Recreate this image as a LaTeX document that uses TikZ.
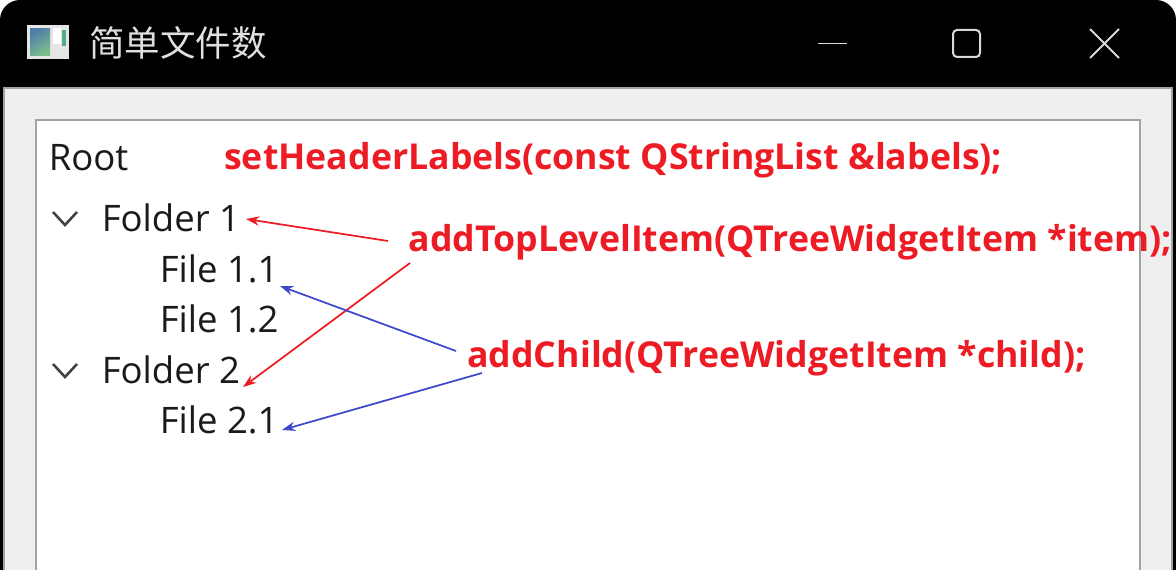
\documentclass[tikz,border=0pt]{standalone}
\usepackage{fontspec}
\setmainfont{Open Sans}
\newfontfamily\cjk{Noto Sans CJK SC}
\definecolor{redtxt}{HTML}{ED1C24}
\definecolor{bluearr}{HTML}{3F48CC}
\definecolor{treetxt}{HTML}{1A1A1A}
\definecolor{edgegray}{HTML}{A0A4A8}
\definecolor{panel}{HTML}{EFEFEF}
\definecolor{iconblue}{HTML}{4F7FA8}
\definecolor{icongreen}{HTML}{7DBE8C}
\usetikzlibrary{arrows.meta}
\tikzset{
  tree/.style={font=\fontsize{27.4}{27}\selectfont,text=treetxt,anchor=base west,inner sep=0pt},
  api/.style={font=\fontsize{26.75}{27}\selectfont\bfseries,text=redtxt,anchor=base west,inner sep=0pt},
  redarrow/.style={draw=redtxt,line width=1.3pt,-{Stealth[length=10pt,width=7pt]}},
  bluearrow/.style={draw=bluearr,line width=1.3pt,-{Stealth[length=10pt,width=7pt]}},
  chevron/.style={draw=black!75,line width=1.9pt},
  caption/.style={draw=white!85!black,line width=1.5pt},
}
\begin{document}
\begin{tikzpicture}[x=0.75pt,y=-0.75pt]
\useasboundingbox (0,0) rectangle (1176,570);
\fill[white] (0,0) rectangle (1176,570);
% title bar
\fill[black,rounded corners=15pt] (0,600) -- (0,0) -- (1176,0) -- (1176,600) -- cycle;
% body
\fill[panel] (4,88) rectangle (1172,570);
\draw[edgegray,line width=0.8pt] (4,570) -- (4,88) -- (1172,88) -- (1172,570);
\fill[white] (36,120) rectangle (1140,570);
\draw[edgegray,line width=1pt] (36,570) -- (36,120) -- (1140,120) -- (1140,570);
% window icon
\fill[white!90!black] (27,25) rectangle (69,59);
\shade[left color=iconblue,right color=icongreen,shading angle=30] (30,29) rectangle (50,56);
\fill[white] (53,28) rectangle (61,44);
\fill[icongreen!70!teal] (62,30) rectangle (66,46);
% title
\node[font=\cjk\fontsize{26.6}{27}\selectfont,text=white!88!black,anchor=base west,inner sep=0pt] (title) at (89,57) {简单文件数};
% caption buttons
\draw[caption,line width=1.1pt] (818,43.5) -- (847,43.5);
\draw[caption,rounded corners=3pt] (953,30) rectangle (980,57);
\draw[caption] (1090,29) -- (1119,58) (1119,29) -- (1090,58);
% tree
\node[tree] (root) at (48.5,171) {Root};
\node[tree] (f1) at (101.5,231) {Folder 1};
\node[tree] (f11) at (159.5,282) {File 1.1};
\node[tree] (f12) at (159.5,332) {File 1.2};
\node[tree] (f2) at (101.5,383) {Folder 2};
\node[tree] (f21) at (159.5,433) {File 2.1};
\draw[chevron] (53,212) -- (65,225) -- (77,212);
\draw[chevron] (53,364) -- (65,377) -- (77,364);
% API labels
\node[api] (hdr) at (224,170) {setHeaderLabels(const QStringList \&labels);};
\node[api] (top) at (408.5,251.5) {addTopLevelItem(QTreeWidgetItem *item);};
\node[api] (child) at (467,367.5) {addChild(QTreeWidgetItem *child);};
% connector ends
\coordinate (a1s) at (388,241);
\coordinate (a1e) at (246,219);
\coordinate (a2s) at (410,263);
\coordinate (a2e) at (243,387);
\coordinate (b1s) at (456,351);
\coordinate (b1e) at (280,286);
\coordinate (b2s) at (482,373);
\coordinate (b2e) at (282,430);
\draw[redarrow] (a1s) -- (a1e);
\draw[redarrow] (a2s) -- (a2e);
\draw[bluearrow] (b1s) -- (b1e);
\draw[bluearrow] (b2s) -- (b2e);
\end{tikzpicture}
\end{document}
